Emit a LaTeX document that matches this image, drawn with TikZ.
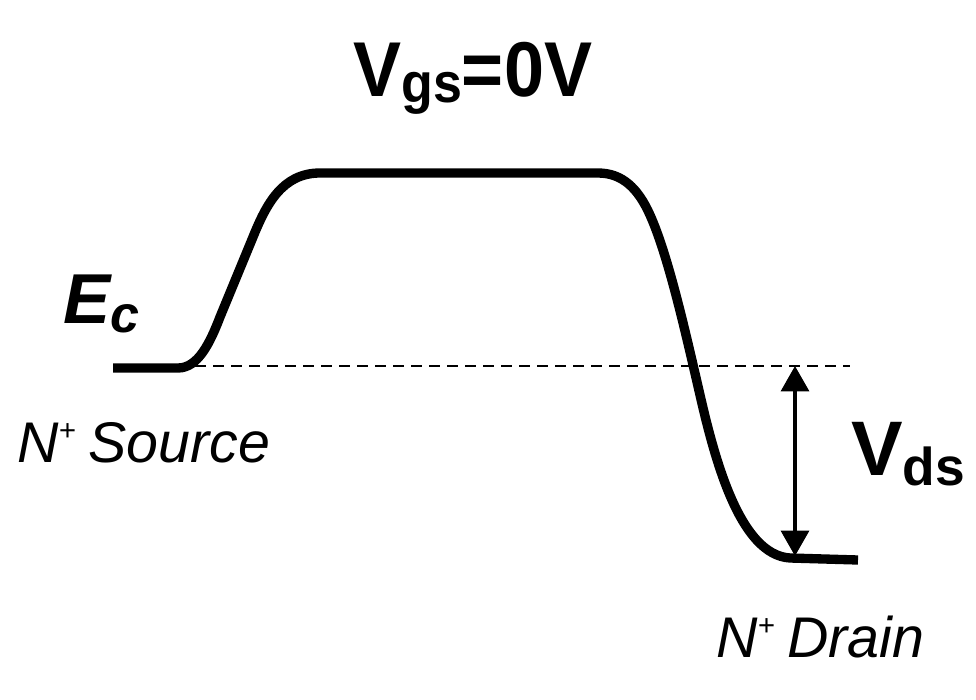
\documentclass[tikz,border=0pt]{standalone}
\usepackage{fontspec}
\setmainfont{Liberation Sans}
\usetikzlibrary{arrows.meta}
\begin{document}
\begin{tikzpicture}[x=0.75pt,y=-0.75pt,
  band/.style={line width=7pt,line cap=butt,line join=round},
  ref/.style={line width=2.2pt,dash pattern=on 8pt off 5.5pt},
  dim/.style={line width=2.3pt,{Triangle[length=19pt,width=21pt]}-{Triangle[length=19pt,width=21pt]}},
  lab/.style={inner sep=0pt,anchor=base west}]
\useasboundingbox (0,0) rectangle (976,700);
% conduction band edge
\draw[band] (113,368) -- (178,368)
  .. controls (198,368) and (210,343) .. (220,317)
  -- (253,237)
  .. controls (266,205) and (282,173) .. (320,173)
  -- (598,173)
  .. controls (622,173) and (638,188) .. (650,215)
  .. controls (668,255) and (685,330) .. (700,395)
  .. controls (715,460) and (740,555) .. (790,558)
  -- (858,560);
% reference level
\coordinate (d1) at (195,366);
\coordinate (d2) at (850,366);
\draw[ref] (d1) -- (d2);
% Vds arrow
\coordinate (a1) at (795,366);
\coordinate (a2) at (795,556);
\draw[dim] (a1) -- (a2);
% labels
\node[lab,font=\fontsize{54}{60}\selectfont\bfseries] (vgs) at (353,96) {\scalebox{1}[1.08]{V\raisebox{-0.08em}{\fontsize{39}{42}\selectfont gs}=0V}};
\node[lab,font=\fontsize{53}{58}\selectfont\bfseries\itshape] (ec) at (63,323) {E\raisebox{-0.13em}{\fontsize{39}{42}\selectfont c}};
\node[lab,font=\fontsize{43}{48}\selectfont\itshape] (src) at (17,462) {N\raisebox{0.37em}{\fontsize{22}{24}\selectfont +}\kern0.22em Source};
\node[lab,font=\fontsize{58}{62}\selectfont\bfseries] (vds) at (851,475) {V\raisebox{-0.13em}{\fontsize{40}{44}\selectfont ds}};
\node[lab,font=\fontsize{43}{48}\selectfont\itshape] (drn) at (716,657) {N\raisebox{0.37em}{\fontsize{22}{24}\selectfont +}\kern0.22em Drain};
\end{tikzpicture}
\end{document}
